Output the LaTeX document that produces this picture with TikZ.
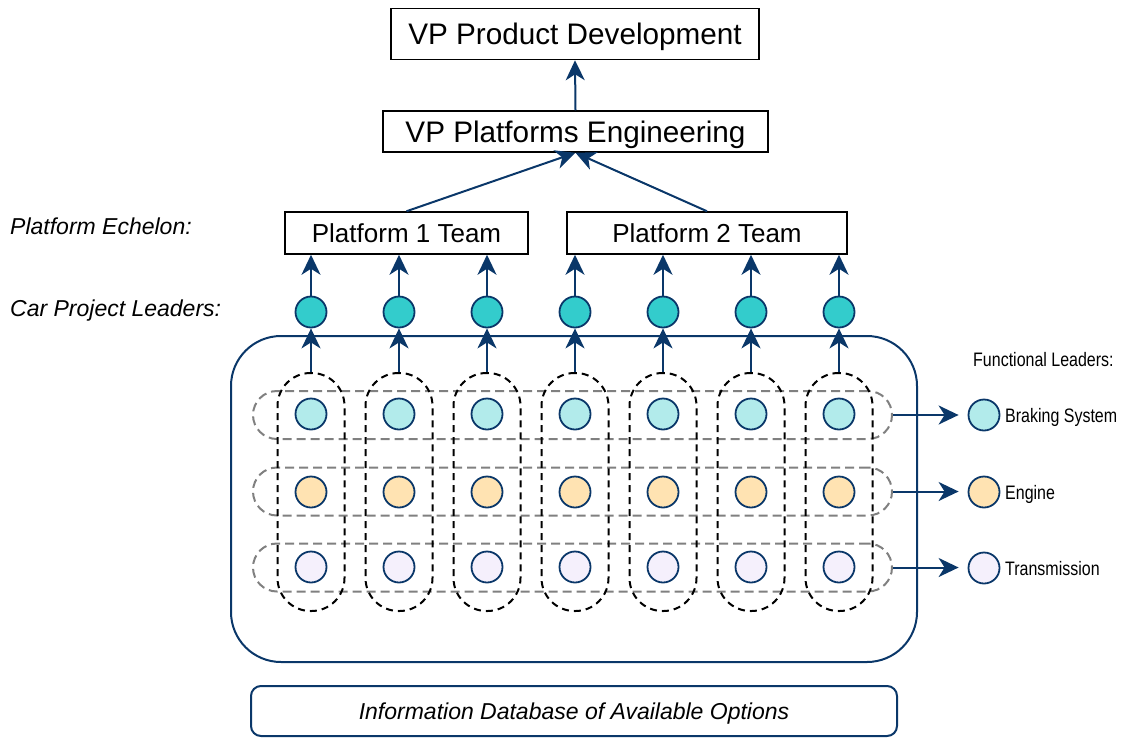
\documentclass[tikz,border=0pt]{standalone}
\usepackage{fontspec}
\setmainfont{Liberation Sans}
\newfontfamily\narrowf[FakeStretch=0.82]{Liberation Sans}
\usetikzlibrary{arrows.meta}
\definecolor{navy}{RGB}{10,55,105}
\definecolor{leadc}{RGB}{51,204,204}
\definecolor{brakec}{RGB}{178,235,235}
\definecolor{enginec}{RGB}{255,227,178}
\definecolor{transc}{RGB}{245,240,252}
\definecolor{dgray}{RGB}{128,128,128}
\tikzset{
  capc/.style={text height=#1, text depth=0pt},
  topbox/.style={draw=black, line width=1.5pt, rectangle, inner sep=0pt, align=center},
  arr/.style={draw=navy, line width=2pt, -{Stealth[length=20pt,width=19pt,inset=6pt]}},
  dot/.style={circle, draw=navy, line width=1.8pt, minimum size=31pt, inner sep=0pt},
  vov/.style={draw=black, dash pattern=on 7pt off 5pt, line width=2pt, rectangle, rounded corners=33pt, minimum width=67pt, minimum height=238pt, inner sep=0pt},
  hov/.style={draw=dgray, dash pattern=on 9pt off 5pt, line width=2pt, rectangle, rounded corners=24pt, minimum width=639pt, minimum height=48pt, inner sep=0pt},
  lbl/.style={anchor=west, inner sep=0pt, capc=16.5pt, font=\fontsize{23}{27}\selectfont\itshape},
  rlbl/.style={anchor=west, inner sep=0pt, capc=14pt, font=\narrowf\fontsize{19.5}{23}\selectfont}
}
\begin{document}
\begin{tikzpicture}[x=1pt, y=-1pt]
\useasboundingbox (0,0) rectangle (1127,737);
% top boxes
\node[topbox, capc=21.3pt, minimum width=368pt, minimum height=51pt, font=\fontsize{29.7}{34}\selectfont] (pd) at (575,34) {VP Product Development};
\node[topbox, capc=21.3pt, minimum width=385pt, minimum height=41pt, font=\fontsize{29.7}{34}\selectfont] (pe) at (575.5,131.5) {VP Platforms Engineering};
\node[topbox, capc=18.6pt, minimum width=243pt, minimum height=42pt, font=\fontsize{26}{30}\selectfont] (p1) at (406.5,233) {Platform 1 Team};
\node[topbox, capc=18.6pt, minimum width=280pt, minimum height=42pt, font=\fontsize{26}{30}\selectfont] (p2) at (707,233) {Platform 2 Team};
\draw[arr] (pe.north) -- (pd.south);
\draw[arr] (p1.north) -- (pe.south);
\draw[arr] (p2.north) -- (pe.south);
% left labels
\node[lbl] (le) at (10,226) {Platform Echelon:};
\node[lbl] (lc) at (10,308) {Car Project Leaders:};
% big frame
\node[draw=navy, line width=2pt, rectangle, rounded corners=50pt, minimum width=686pt, minimum height=326pt, inner sep=0pt] (frame) at (574,499) {};
% rows
\node[hov] (r1) at (572.5,415) {};
\node[hov] (r2) at (572.5,491.5) {};
\node[hov] (r3) at (572.5,567.5) {};
\foreach \i in {1,...,7} {
  \pgfmathsetmacro\cx{311+88*(\i-1)}
  \node[vov] (v\i) at (\cx,492) {};
  \node[dot, fill=leadc] (c\i) at (\cx,312) {};
  \node[dot, fill=brakec] (a\i) at (\cx,414) {};
  \node[dot, fill=enginec] (b\i) at (\cx,492) {};
  \node[dot, fill=transc] (t\i) at (\cx,567) {};
  \draw[arr] (v\i.north) -- (c\i.south);
}
\foreach \i in {1,2,3} { \draw[arr] (c\i.north) -- (c\i.north |- p1.south); }
\foreach \i in {4,...,7} { \draw[arr] (c\i.north) -- (c\i.north |- p2.south); }
% functional leaders
\node[rlbl] (fl) at (973,359.5) {Functional Leaders:};
\node[dot, fill=brakec] (f1) at (984,415) {};
\node[dot, fill=enginec] (f2) at (984,492) {};
\node[dot, fill=transc] (f3) at (984,568) {};
\node[rlbl] (n1) at (1005,415.5) {Braking System};
\node[rlbl] (n2) at (1005,492.5) {Engine};
\node[rlbl] (n3) at (1005,568.5) {Transmission};
\draw[arr, shorten >=9pt] (r1.east) -- (r1.east -| f1.west);
\draw[arr, shorten >=9pt] (r2.east) -- (r2.east -| f2.west);
\draw[arr, shorten >=9pt] (r3.east) -- (r3.east -| f3.west);
% database
\node[draw=navy, line width=2pt, rectangle, rounded corners=10pt, minimum width=646pt, minimum height=50pt, inner sep=0pt, capc=16.5pt, font=\fontsize{23}{27}\selectfont\itshape] (db) at (574,711) {Information Database of Available Options};
\end{tikzpicture}
\end{document}
